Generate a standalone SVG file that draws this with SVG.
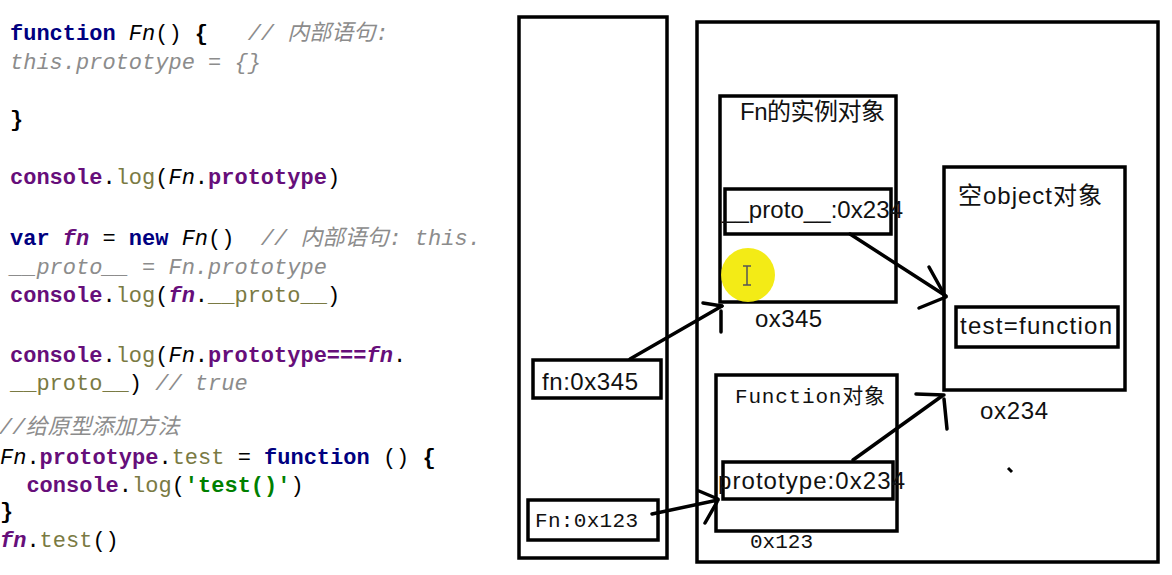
<svg xmlns="http://www.w3.org/2000/svg" width="1172" height="575" viewBox="0 0 1172 575">
<style>
.code{font-family:"Liberation Mono","Noto Sans CJK SC",monospace;font-size:22px;white-space:pre;fill:#000}
.kw{fill:#000080;font-weight:bold}
.cm{fill:#8c8c8c;font-style:italic}
.pu{fill:#660E7A;font-weight:bold}
.it{font-style:italic}
.ipu{fill:#660E7A;font-style:italic;font-weight:bold}
.ol{fill:#7A7A43}
.st{fill:#008000;font-weight:bold}
.bd{font-weight:bold}
.box{fill:none;stroke:#000;stroke-width:3.5}
.lbl{font-family:"Liberation Sans","Noto Sans CJK SC",sans-serif;font-size:24px;fill:#111}
.mono{font-family:"Liberation Mono","Noto Sans CJK SC",monospace;font-size:21px;fill:#111}
.con{stroke:#000;stroke-width:3.5;fill:none;stroke-linecap:round}
</style>
<rect width="1172" height="575" fill="#fff"/>
<g id="code">
<text class="code" x="10" y="40"><tspan class="kw">function</tspan> <tspan class="it">Fn</tspan>() <tspan class="bd">{</tspan>   <tspan class="cm">// 内部语句:</tspan></text>
<text class="code cm" x="10" y="69">this.prototype = {}</text>
<text class="code bd" x="10" y="126">}</text>
<text class="code" x="10" y="184"><tspan class="pu">console</tspan>.<tspan class="ol">log</tspan>(<tspan class="it">Fn</tspan>.<tspan class="pu">prototype</tspan>)</text>
<text class="code" x="10" y="245"><tspan class="kw">var</tspan> <tspan class="ipu">fn</tspan> = <tspan class="kw">new</tspan> <tspan class="it">Fn</tspan>()  <tspan class="cm">// 内部语句: this.</tspan></text>
<text class="code cm" x="10" y="274">__proto__ = Fn.prototype</text>
<text class="code" x="10" y="302"><tspan class="pu">console</tspan>.<tspan class="ol">log</tspan>(<tspan class="ipu">fn</tspan>.<tspan class="ol">__proto__</tspan>)</text>
<text class="code" x="10" y="362"><tspan class="pu">console</tspan>.<tspan class="ol">log</tspan>(<tspan class="it">Fn</tspan>.<tspan class="pu">prototype===</tspan><tspan class="ipu">fn</tspan>.</text>
<text class="code" x="10" y="390"><tspan class="ol">__proto__</tspan>) <tspan class="cm">// true</tspan></text>
<text class="code cm" x="-1" y="434">//给原型添加方法</text>
<text class="code" x="0" y="464"><tspan class="it">Fn</tspan>.<tspan class="pu">prototype</tspan>.<tspan class="ol">test</tspan> = <tspan class="kw">function</tspan> () <tspan class="bd">{</tspan></text>
<text class="code" x="0" y="492">  <tspan class="pu">console</tspan>.<tspan class="ol">log</tspan>(<tspan class="st">'test()'</tspan>)</text>
<text class="code bd" x="0" y="518">}</text>
<text class="code" x="0" y="547"><tspan class="ipu">fn</tspan>.<tspan class="ol">test</tspan>()</text>
</g>
<g id="stack">
<rect class="box" x="519" y="17" width="148" height="541"/>
</g>
<g id="heap">
<rect class="box" x="697" y="22" width="461" height="540"/>
</g>
<g id="var-fn">
<rect class="box" x="533" y="360" width="128" height="38"/>
<text class="lbl" x="542" y="390" textLength="96">fn:0x345</text>
</g>
<g id="var-Fn">
<rect class="box" x="528" y="500" width="130" height="40"/>
<text class="mono" x="535" y="527" textLength="103">Fn:0x123</text>
</g>
<g id="fn-instance">
<rect class="box" x="720" y="96" width="176" height="206"/>
<text class="lbl" x="740" y="120" textLength="145">Fn的实例对象</text>
<rect class="box" x="725" y="189" width="166" height="45"/>
<text class="lbl" x="722" y="218" textLength="181">__proto__:0x234</text>
<text class="lbl" x="755" y="327" textLength="67">ox345</text>
</g>
<g id="empty-object">
<rect class="box" x="944" y="167" width="181" height="223"/>
<text class="lbl" x="958" y="204" textLength="144">空object对象</text>
<rect class="box" x="956" y="307" width="162" height="40"/>
<text class="lbl" x="960" y="334" textLength="152">test=function</text>
<text class="lbl" x="980" y="419" textLength="68">ox234</text>
</g>
<g id="function-object">
<rect class="box" x="716" y="375" width="181" height="156"/>
<text class="mono" x="735" y="403" textLength="150">Function对象</text>
<rect class="box" x="723" y="462" width="170" height="37"/>
<text class="lbl" x="718" y="489" textLength="187">prototype:0x234</text>
<text class="mono" x="750" y="548" textLength="63">0x123</text>
</g>
<g id="connectors">
<line class="con" x1="630" y1="359" x2="722" y2="306"/>
<line class="con" x1="703" y1="303" x2="722" y2="306"/>
<line class="con" x1="721" y1="311" x2="721" y2="332"/>
<line class="con" x1="850" y1="234" x2="946" y2="296"/>
<line class="con" x1="929" y1="267" x2="944" y2="294"/>
<line class="con" x1="919" y1="308" x2="946" y2="297"/>
<line class="con" x1="853" y1="460" x2="942" y2="396"/>
<line class="con" x1="916" y1="394" x2="944" y2="395"/>
<line class="con" x1="944" y1="399" x2="947" y2="429"/>
<line class="con" x1="652" y1="514" x2="718" y2="500"/>
<line class="con" x1="699" y1="491" x2="718" y2="499"/>
<line class="con" x1="717" y1="502" x2="705" y2="523"/>
</g>
<g id="cursor">
<circle cx="748" cy="275" r="27" fill="#f2ea0a" opacity="0.95"/>
<path d="M743 266h8M747 266v19M743 285h8" stroke="#555" stroke-width="1.5" fill="none"/>
</g>
<line x1="1008" y1="468" x2="1012" y2="472" stroke="#000" stroke-width="3"/>
</svg>
